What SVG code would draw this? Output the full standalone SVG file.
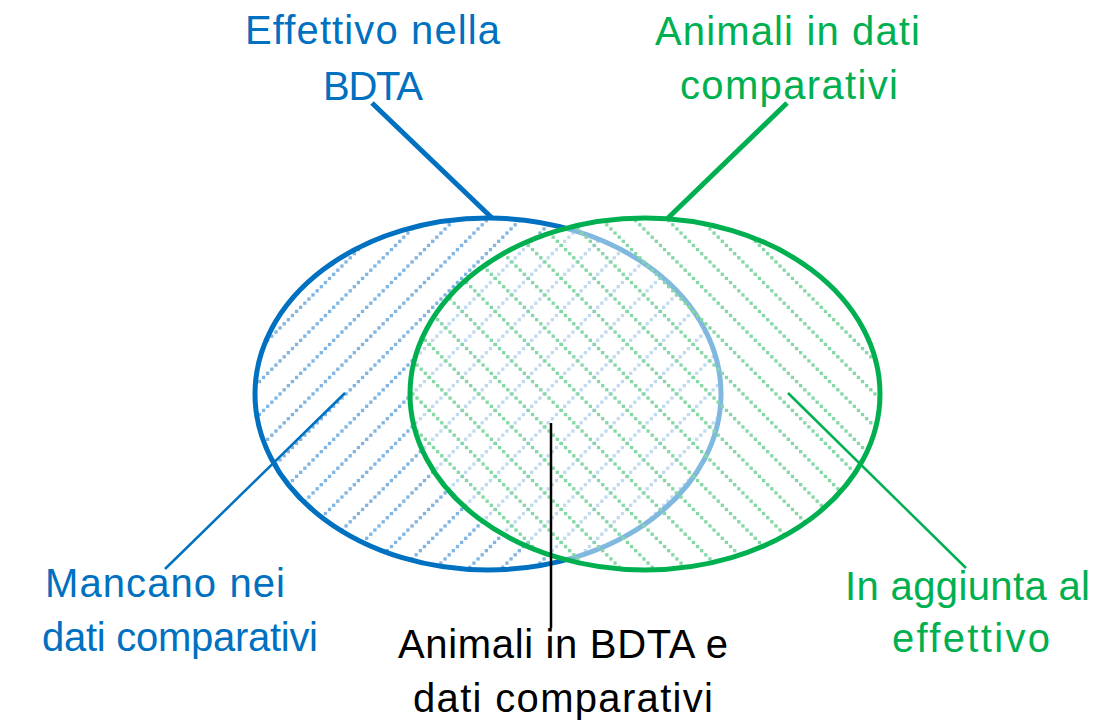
<svg xmlns="http://www.w3.org/2000/svg" width="1097" height="721" viewBox="0 0 1097 721">
<style>
text{font-family:"Liberation Sans",Arial,sans-serif;font-size:40px}
.b{fill:#0070c0}.g{fill:#00b050}.k{fill:#000}
.bd{fill:#82b5e1}.gd{fill:#86d7a6}
</style>
<defs>
<pattern id="bh" patternUnits="userSpaceOnUse" x="14" y="0" width="33" height="33">
<rect class="bd" x="0.41" y="29.29" width="3.3" height="3.3"/>
<rect class="bd" x="4.54" y="25.16" width="3.3" height="3.3"/>
<rect class="bd" x="8.66" y="21.04" width="3.3" height="3.3"/>
<rect class="bd" x="12.79" y="16.91" width="3.3" height="3.3"/>
<rect class="bd" x="16.91" y="12.79" width="3.3" height="3.3"/>
<rect class="bd" x="21.04" y="8.66" width="3.3" height="3.3"/>
<rect class="bd" x="25.16" y="4.54" width="3.3" height="3.3"/>
<rect class="bd" x="29.29" y="0.41" width="3.3" height="3.3"/>
</pattern>
<pattern id="gh" patternUnits="userSpaceOnUse" x="19" y="0" width="33" height="33">
<rect class="gd" x="0.41" y="0.41" width="3.3" height="3.3"/>
<rect class="gd" x="4.54" y="4.54" width="3.3" height="3.3"/>
<rect class="gd" x="8.66" y="8.66" width="3.3" height="3.3"/>
<rect class="gd" x="12.79" y="12.79" width="3.3" height="3.3"/>
<rect class="gd" x="16.91" y="16.91" width="3.3" height="3.3"/>
<rect class="gd" x="21.04" y="21.04" width="3.3" height="3.3"/>
<rect class="gd" x="25.16" y="25.16" width="3.3" height="3.3"/>
<rect class="gd" x="29.29" y="29.29" width="3.3" height="3.3"/>
</pattern>
</defs>
<rect width="1097" height="721" fill="#fff"/>
<g id="blue-set">
<ellipse cx="488" cy="394" rx="233" ry="176" fill="url(#bh)" stroke="#0070c0" stroke-width="5"/>
</g>
<g id="green-set">
<ellipse cx="645" cy="394" rx="235" ry="176" fill="#fff" fill-opacity="0.5"/>
<ellipse cx="645" cy="394" rx="235" ry="176" fill="url(#gh)" stroke="#00b050" stroke-width="5"/>
</g>
<g id="connectors" fill="none">
<line x1="372" y1="103" x2="492" y2="218" stroke="#0070c0" stroke-width="5"/>
<line x1="787" y1="103" x2="668" y2="218" stroke="#00b050" stroke-width="5"/>
<line x1="345" y1="393" x2="165" y2="569" stroke="#0070c0" stroke-width="2.5"/>
<line x1="788" y1="393" x2="966" y2="568" stroke="#00b050" stroke-width="2.5"/>
<line x1="551" y1="423" x2="551" y2="628" stroke="#000" stroke-width="2.5"/>
</g>
<g id="label-bdta">
<text class="b" x="245" y="44" textLength="255" lengthAdjust="spacing">Effettivo nella</text>
<text class="b" x="323" y="100" textLength="100" lengthAdjust="spacing">BDTA</text>
</g>
<g id="label-comparativi">
<text class="g" x="655" y="45" textLength="265" lengthAdjust="spacing">Animali in dati</text>
<text class="g" x="680" y="99" textLength="218" lengthAdjust="spacing">comparativi</text>
</g>
<g id="label-mancano">
<text class="b" x="45" y="597" textLength="240" lengthAdjust="spacing">Mancano nei</text>
<text class="b" x="42" y="651" textLength="276" lengthAdjust="spacing">dati comparativi</text>
</g>
<g id="label-both">
<text class="k" x="398" y="658" textLength="330" lengthAdjust="spacing">Animali in BDTA e</text>
<text class="k" x="413" y="712" textLength="300" lengthAdjust="spacing">dati comparativi</text>
</g>
<g id="label-aggiunta">
<text class="g" x="845" y="600" textLength="245" lengthAdjust="spacing">In aggiunta al</text>
<text class="g" x="892" y="652" textLength="158" lengthAdjust="spacing">effettivo</text>
</g>
</svg>
